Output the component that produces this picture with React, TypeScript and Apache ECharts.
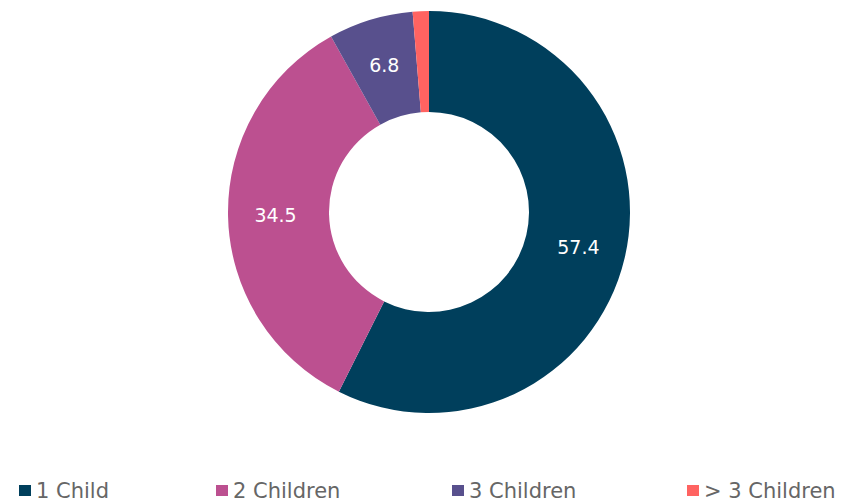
import React, { useEffect, useRef } from "react";
import * as echarts from "echarts";

const categories = ["1 Child", "2 Children", "3 Children", "> 3 Children"];
const values = [57.4, 34.5, 6.8, 1.3];
const colors = ["#003f5c", "#bc5090", "#58508d", "#ff6361"];
const showLabel = [true, true, true, false];
const legendLeft = [19, 216, 452, 687];

export default function App() {
  const ref = useRef<HTMLDivElement>(null);
  useEffect(() => {
    document.body.style.margin = "0";
    if (!ref.current) return;
    const chart = echarts.init(ref.current, null, { renderer: "svg" });
    chart.setOption({
      animation: false,
      backgroundColor: "#ffffff",
      color: colors,
      legend: categories.map((c, i) => ({
        data: [c],
        left: legendLeft[i],
        top: 480,
        icon: "rect",
        itemWidth: 12,
        itemHeight: 11,
        itemGap: 0,
        padding: 0,
        textStyle: { fontSize: 21, color: "#666", fontFamily: "DejaVu Sans" },
        selectedMode: false,
      })),
      series: [
        {
          type: "pie",
          center: [429, 212],
          radius: [100, 201],
          startAngle: 90,
          clockwise: true,
          avoidLabelOverlap: false,
          label: {
            show: true,
            position: "inside",
            color: "#ffffff",
            fontSize: 19,
            fontFamily: "DejaVu Sans",
            formatter: (p: any) => String(p.value),
          },
          labelLine: { show: false },
          emphasis: { disabled: true },
          data: categories.map((c, i) => ({
            name: c,
            value: values[i],
            label: { show: showLabel[i] },
          })),
        },
      ],
    });
    return () => chart.dispose();
  }, []);
  return <div ref={ref} style={{ width: 843, height: 502 }} />;
}
